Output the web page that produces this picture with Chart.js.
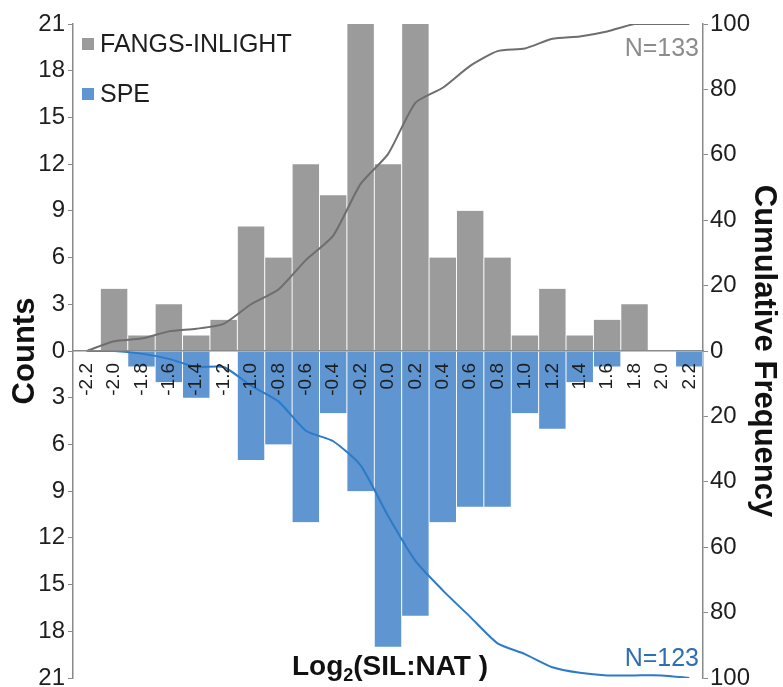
<!DOCTYPE html>
<html>
<head>
<meta charset="utf-8">
<script src="https://cdn.jsdelivr.net/npm/chart.js@4.4.1/dist/chart.umd.min.js"></script>
<style>
  html, body { margin: 0; padding: 0; background: #fff; }
  #wrap { width: 783px; height: 687px; position: relative; }
</style>
</head>
<body>
<div id="wrap"><canvas id="c" width="783" height="687"></canvas></div>
<script>
// ---- Data ----
const categories = ['-2.2','-2.0','-1.8','-1.6','-1.4','-1.2','-1.0','-0.8','-0.6','-0.4','-0.2','0.0',
                    '0.2','0.4','0.6','0.8','1.0','1.2','1.4','1.6','1.8','2.0','2.2'];
const fangsCounts = [0,4,1,3,1,2,8,6,12,10,21,12,21,6,9,6,1,4,1,2,3,0,0];
const speCounts   = [0,0,1,2,3,0,7,6,11,4,9,19,17,11,10,10,4,5,2,1,0,0,1];
const fangsCumPct = [0,3.0,3.8,6.0,6.8,8.3,14.3,18.8,27.8,35.3,51.1,60.2,75.9,80.5,87.2,91.7,92.5,95.5,96.2,97.7,100,100,100];
const speCumPct   = [0,0,0.8,2.4,4.9,4.9,10.6,15.4,24.4,27.6,35.0,50.4,64.2,73.2,81.3,89.4,92.7,96.7,98.4,99.2,99.2,99.2,100];
const countTicks = [21,18,15,12,9,6,3,0,3,6,9,12,15,18,21];
const freqTicks  = [100,80,60,40,20,0,20,40,60,80,100];
const seriesNames = ['FANGS-INLIGHT','SPE'];
const nLabels = ['N=133','N=123'];

const FONT = '"Liberation Sans", Arial, Helvetica, sans-serif';
const GRAY_BAR = '#9b9b9b';
const BLUE_BAR = '#5f95d0';
const GRAY_LINE = '#6e6e6e';
const BLUE_LINE = '#2b7bc9';
const AXIS = '#8a8a8a';
const TXT = '#1e1e1e';

const overlay = {
  id: 'overlay',
  afterDraw(chart) {
    const ctx = chart.ctx;
    const ca = chart.chartArea;
    ctx.save();
    // legend
    ctx.font = '25px ' + FONT;
    ctx.textBaseline = 'alphabetic';
    ctx.textAlign = 'left';
    const legendRows = [{y: 52, c: GRAY_BAR}, {y: 102, c: BLUE_BAR}];
    legendRows.forEach((r, i) => {
      ctx.fillStyle = r.c;
      ctx.fillRect(ca.left + 9, r.y - 14, 12, 12);
      ctx.fillStyle = TXT;
      ctx.fillText(seriesNames[i], ca.left + 27, r.y);
    });
    // N labels
    ctx.textAlign = 'right';
    ctx.font = '25px ' + FONT;
    ctx.fillStyle = '#8c8c8c';
    ctx.fillText(nLabels[0], ca.right - 4, 56);
    ctx.fillStyle = '#2d6fb5';
    ctx.fillText(nLabels[1], ca.right - 4, 666);
    // x axis title with subscript
    ctx.fillStyle = '#111';
    const big = 'bold 28px ' + FONT, small = 'bold 18px ' + FONT;
    const p1 = 'Log', p2 = '2', p3 = '(SIL:NAT )';
    ctx.font = big; const w1 = ctx.measureText(p1).width, w3 = ctx.measureText(p3).width;
    ctx.font = small; const w2 = ctx.measureText(p2).width;
    const total = w1 + w2 + w3;
    let x = 390 - total / 2;
    const by = 675;
    ctx.textAlign = 'left';
    ctx.font = big; ctx.fillText(p1, x, by); x += w1;
    ctx.font = small; ctx.fillText(p2, x, by + 6); x += w2;
    ctx.font = big; ctx.fillText(p3, x, by);
    ctx.restore();
  }
};

new Chart(document.getElementById('c'), {
  data: {
    labels: categories,
    datasets: [
      { type: 'line', label: seriesNames[0] + ' cumulative', data: fangsCumPct, yAxisID: 'y2',
        borderColor: GRAY_LINE, borderWidth: 2, pointRadius: 0, tension: 0.2, order: 1 },
      { type: 'line', label: seriesNames[1] + ' cumulative', data: speCumPct.map(v => -v), yAxisID: 'y2',
        borderColor: BLUE_LINE, borderWidth: 2, pointRadius: 0, tension: 0.2, order: 1 },
      { type: 'bar', label: seriesNames[0], data: fangsCounts, yAxisID: 'y',
        backgroundColor: GRAY_BAR, borderColor: '#ffffff', borderSkipped: false,
        borderWidth: {left: 0.8, right: 0.8, top: 0, bottom: 0},
        categoryPercentage: 1, barPercentage: 1, grouped: false, order: 2 },
      { type: 'bar', label: seriesNames[1], data: speCounts.map(v => -v), yAxisID: 'y',
        backgroundColor: BLUE_BAR, borderColor: '#ffffff', borderSkipped: false,
        borderWidth: {left: 0.8, right: 0.8, top: 0, bottom: 0},
        categoryPercentage: 1, barPercentage: 1, grouped: false, order: 2 }
    ]
  },
  options: {
    responsive: false,
    animation: false,
    layout: { padding: { top: 24, bottom: 9, left: 0, right: 0 } },
    plugins: { legend: { display: false }, tooltip: { enabled: false } },
    scales: {
      x: {
        type: 'category',
        position: { y: 0 },
        offset: true,
        grid: { display: false, drawTicks: false },
        border: { display: true, color: AXIS, width: 1.5, z: 1 },
        ticks: { z: 2, color: TXT, font: { family: FONT, size: 19 }, minRotation: 90, maxRotation: 90,
                 autoSkip: false, padding: 12 }
      },
      y: {
        type: 'linear', position: 'left', min: -21, max: 21,
        afterFit(s) { s.width = 73; s.paddingTop = 0; s.paddingBottom = 0; },
        afterBuildTicks(s) { s.ticks = countTicks.map((v, i) => ({ value: i < 7 ? v : -v })); },
        grid: { drawOnChartArea: false, drawTicks: true, tickLength: 5, color: AXIS },
        border: { display: true, color: AXIS, width: 1.5 },
        ticks: { color: TXT, font: { family: FONT, size: 24 }, padding: 3,
                 callback: v => Math.abs(v) },
        title: { display: true, text: 'Counts', color: '#111',
                 font: { family: FONT, size: 31, weight: 'bold', lineHeight: 1 }, padding: { top: 10 } }
      },
      y2: {
        type: 'linear', position: 'right', min: -100, max: 100,
        afterFit(s) { s.width = 80; s.paddingTop = 0; s.paddingBottom = 0; },
        afterBuildTicks(s) { s.ticks = freqTicks.map((v, i) => ({ value: i < 5 ? v : -v })); },
        grid: { drawOnChartArea: false, drawTicks: true, tickLength: 5, color: AXIS },
        border: { display: true, color: AXIS, width: 1.5 },
        ticks: { color: TXT, font: { family: FONT, size: 24 }, padding: 2,
                 callback: v => Math.abs(v) },
        title: { display: true, text: 'Cumulative Frequency', color: '#111',
                 font: { family: FONT, size: 31, weight: 'bold', lineHeight: 1 }, padding: { top: 4 } }
      }
    }
  },
  plugins: [overlay]
});
</script>
</body>
</html>
